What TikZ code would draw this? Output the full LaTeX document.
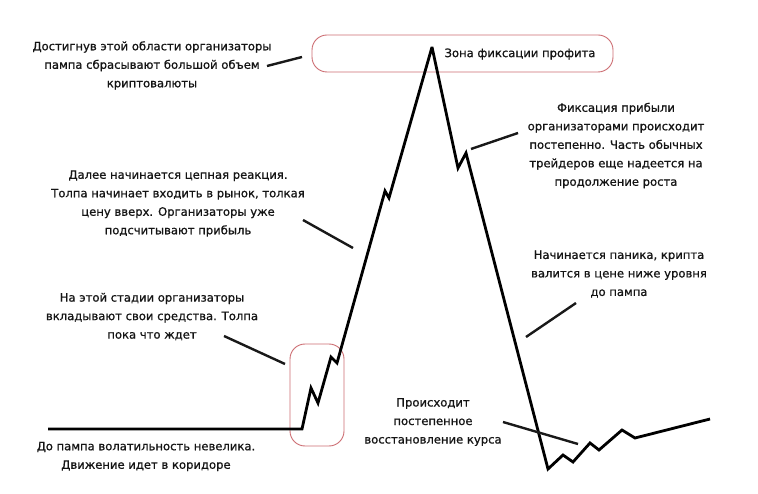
\documentclass[tikz,border=0pt]{standalone}
\usepackage{fontspec}
\setmainfont{DejaVu Sans}
\newfontfamily\lblfont{DejaVu Sans}[FakeBold=0.8]
\definecolor{zonered}{RGB}{205,110,115}
\definecolor{txt}{RGB}{20,20,20}
\begin{document}
\begin{tikzpicture}[x=1pt,y=-1pt,
  lbl/.style={align=center, inner sep=0pt, text=txt, font=\lblfont\fontsize{11.6}{18.5}\selectfont},
  price/.style={line width=2.8pt, black, line join=miter, miter limit=4},
  leader/.style={line width=2.4pt, black!90},
  zone/.style={draw=zonered, rounded corners=15pt, line width=0.9pt, inner sep=0pt}]
\useasboundingbox[fill=white] (0,0) rectangle (758,494);

% zones
\node[zone, minimum width=301pt, minimum height=37pt] (ztop) at (462.5,53.5) {};
\node[zone, minimum width=54pt, minimum height=102pt] (zlow) at (317,395) {};

% price line points
\coordinate (p0) at (48,429);
\coordinate (p1) at (302,429);
\coordinate (p2) at (311,388);
\coordinate (p3) at (318,403);
\coordinate (p4) at (331,357);
\coordinate (p5) at (337,363);
\coordinate (p6) at (385,191);
\coordinate (p7) at (389,198);
\coordinate (peak) at (432,47);
\coordinate (q1) at (458,168);
\coordinate (q2) at (466,153);
\coordinate (low) at (548,469);
\coordinate (r1) at (563,455);
\coordinate (r2) at (573,462);
\coordinate (r3) at (590,443);
\coordinate (r4) at (599,450);
\coordinate (r5) at (622,430);
\coordinate (r6) at (635,438);
\coordinate (r7) at (710,419);
\draw[price] (p0) -- (p1) -- (p2) -- (p3) -- (p4) -- (p5) -- (p6) -- (p7) -- (peak)
  -- (q1) -- (q2) -- (low) -- (r1) -- (r2) -- (r3) -- (r4) -- (r5) -- (r6) -- (r7);

% labels
\node[lbl] (t1) at (152,65.5) {Достигнув этой области организаторы\\пампа сбрасывают большой объем\\криптовалюты};
\node[lbl] (t2) at (520,54) {Зона фиксации профита};
\node[lbl] (t3) at (616,145.5) {Фиксация прибыли\\организаторами происходит\\постепенно. Часть обычных\\трейдеров еще надеется на\\продолжение роста};
\node[lbl] (t4) at (178,203.5) {Далее начинается цепная реакция.\\Толпа начинает входить в рынок, толкая\\цену вверх. Организаторы уже\\подсчитывают прибыль};
\node[lbl] (t5) at (152,316.5) {На этой стадии организаторы\\вкладывают свои средства. Толпа\\пока что ждет};
\node[lbl] (t6) at (619,274) {Начинается паника, крипта\\валится в цене ниже уровня\\до пампа};
\node[lbl] (t7) at (146,456.5) {До пампа волатильность невелика.\\Движение идет в коридоре};
\node[lbl] (t8) at (433,422) {Происходит\\постепенное\\восстановление курса};

% leader lines
\coordinate (a1) at (267,66);  \coordinate (b1) at (302,57);
\coordinate (a3) at (471,149); \coordinate (b3) at (518,133);
\coordinate (a4) at (303,220); \coordinate (b4) at (353,248);
\coordinate (a5) at (224,336); \coordinate (b5) at (285,364);
\coordinate (a6) at (526,337); \coordinate (b6) at (576,303);
\coordinate (a8) at (503,422); \coordinate (b8) at (578,444);
\foreach \i in {1,3,4,5,6,8} \draw[leader] (a\i) -- (b\i);
\end{tikzpicture}
\end{document}
